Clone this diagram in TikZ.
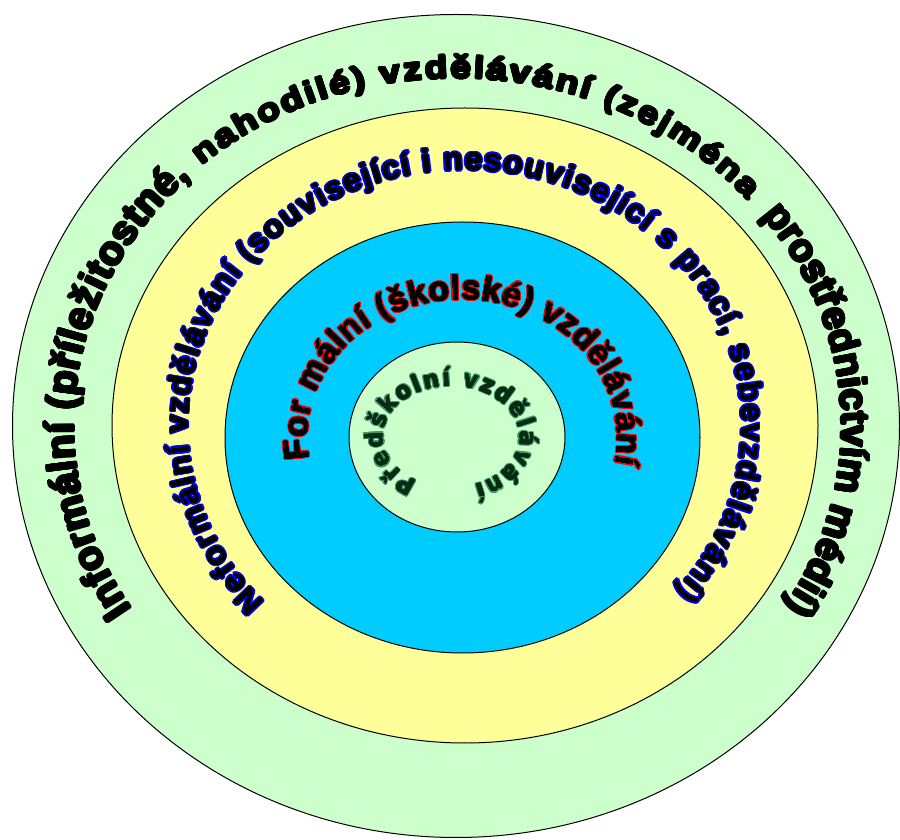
\documentclass[tikz,border=0pt]{standalone}
\usepackage{fontspec}
\setmainfont{Liberation Sans}
\newfontfamily\fOuter{Liberation Sans}
\newfontfamily\fTop{Liberation Sans}[FakeStretch=1.2]
\newfontfamily\fYel{Liberation Sans}
\newfontfamily\fRed{Liberation Sans}
\newfontfamily\fIn{DejaVu Sans}[FakeStretch=0.92]
\usetikzlibrary{decorations.text}
\definecolor{ltgreen}{HTML}{CCFFCC}
\definecolor{ltyellow}{HTML}{FFFF99}
\definecolor{skyblue}{HTML}{00CCFF}
\definecolor{midgreen}{HTML}{3C9966}
\definecolor{darkgreen}{HTML}{0A2A14}
\definecolor{outblue}{HTML}{0000FF}
\definecolor{outred}{HTML}{FF0000}
% #1 outline colour, #2 fill colour, #3 font, #4 path, #5 text, #6 outline width, #7 fill emboldening
\newcommand\ringtext[7]{%
  \foreach \ang in {0,30,...,330}{%
    \path[shift={(\ang:#6)}, decorate, decoration={text along path,
      text align=fit to path, text color=#1, text={|#3|#5}}] #4;
  }%
  \foreach \ang in {0,60,...,300}{%
    \path[shift={(\ang:#7)}, decorate, decoration={text along path,
      text align=fit to path, text color=#2, text={|#3|#5}}] #4;
  }%
  \path[decorate, decoration={text along path,
      text align=fit to path, text color=#2, text={|#3|#5}}] #4;
}
\tikzset{ring/.style={draw=black, line width=1pt}}
\begin{document}
\begin{tikzpicture}[x=1pt,y=1pt]
\useasboundingbox (0,0) rectangle (900,839);
% rings
\path[ring, fill=ltgreen]  (456,413)   ellipse[x radius=443.5pt, y radius=411.5pt];
\path[ring, fill=ltyellow] (465,413.5) ellipse[x radius=353pt, y radius=317.5pt];
\path[ring, fill=skyblue]  (462.5,401.5) ellipse[x radius=237.5pt, y radius=215.5pt];
\path[ring, fill=ltgreen]  (457,402)   ellipse[x radius=108pt, y radius=95pt];
% outer text (three arcs: sides larger than top, as in the reference)
\ringtext{black}{black}{\fontsize{40}{42}\fOuter\bfseries}
  {([shift={(456,413)}]212:382pt and 346pt) arc[start angle=212, end angle=134, x radius=382pt, y radius=346pt]}
  {Informální (příležitostné,}{1.3pt}{0.6pt}
\ringtext{black}{black}{\fontsize{31}{33}\fTop\bfseries}
  {([shift={(456,413)}]131.5:384pt and 348pt) arc[start angle=131.5, end angle=40.5, x radius=384pt, y radius=348pt]}
  {nahodilé) vzdělávání (zejména}{1.3pt}{0.6pt}
\ringtext{black}{black}{\fontsize{39}{41}\fOuter\bfseries}
  {([shift={(456,413)}]37.5:386pt and 346pt) arc[start angle=37.5, end angle=-31.5, x radius=386pt, y radius=346pt]}
  {prostřednictvím médií)}{1.3pt}{0.6pt}
% yellow ring text
\ringtext{outblue}{black}{\fontsize{32}{34}\fYel\bfseries}
  {([shift={(465,413.5)}]223.7:277pt and 255.5pt) arc[start angle=223.7, end angle=-40.5, x radius=277pt, y radius=255.5pt]}
  {Neformální vzdělávání (související i nesouvisející s prací, sebevzdělávání)}{1.8pt}{0.3pt}
% blue ring text
\ringtext{outred}{black}{\fontsize{34}{36}\fRed\bfseries}
  {([shift={(462.5,401.5)}]189:155pt and 138pt) arc[start angle=189, end angle=-11, x radius=155pt, y radius=138pt]}
  {For mální (školské) vzdělávání}{1.6pt}{0.3pt}
% inner text
\ringtext{midgreen}{darkgreen}{\fontsize{24}{26}\fIn\bfseries}
  {([shift={(451.5,402)}]240:68.5pt and 51pt) arc[start angle=240, end angle=-70, x radius=68.5pt, y radius=51pt]}
  {Předškolní vzdělávání}{1.5pt}{0.2pt}
\end{tikzpicture}
\end{document}
